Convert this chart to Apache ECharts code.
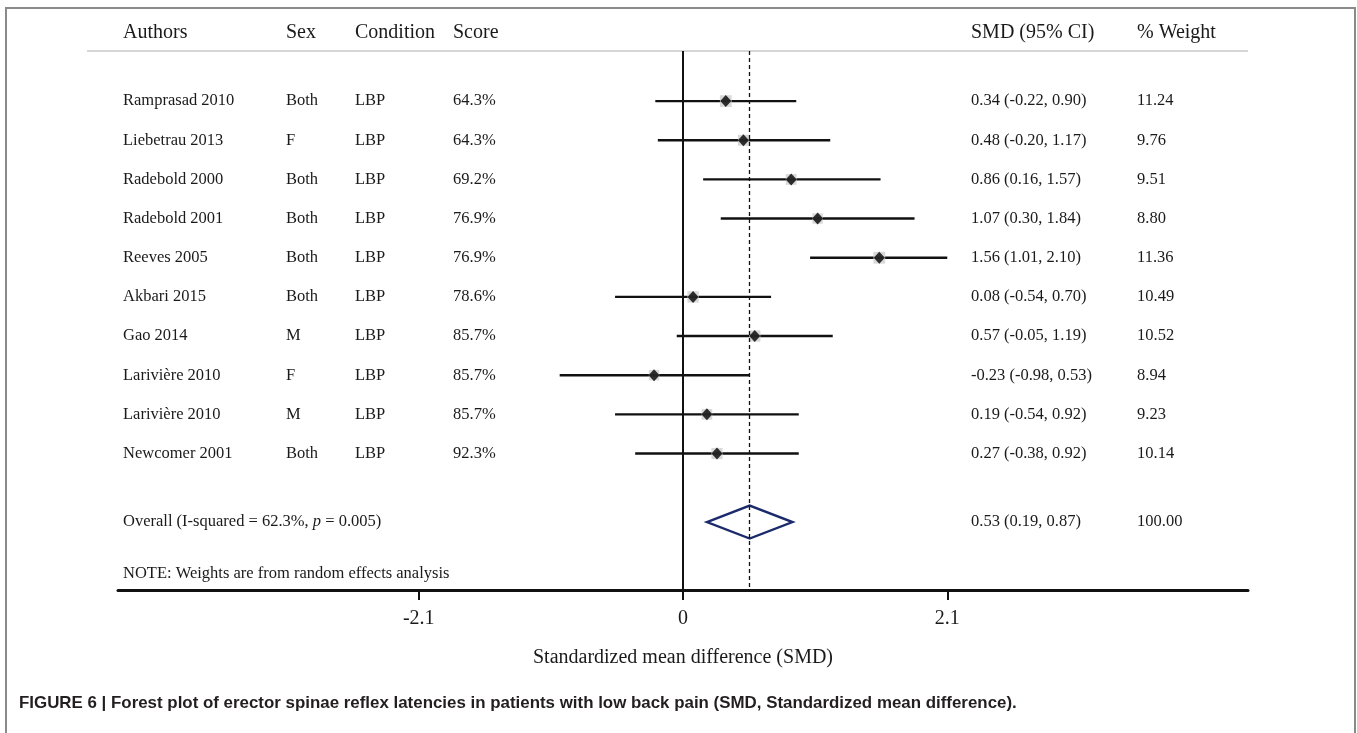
<!DOCTYPE html>
<html><head><meta charset="utf-8">
<script src="https://cdn.jsdelivr.net/npm/echarts@6/dist/echarts.min.js"></script>
<style>html,body{margin:0;padding:0;background:#fff}#c{width:1357px;height:733px}</style>
</head><body><div id="c"></div>
<script>
// ---- data ----
const authors = ['Ramprasad 2010','Liebetrau 2013','Radebold 2000','Radebold 2001','Reeves 2005','Akbari 2015','Gao 2014','Larivière 2010','Larivière 2010','Newcomer 2001'];
const sexes = ['Both','F','Both','Both','Both','Both','M','F','M','Both'];
const conditions = ['LBP','LBP','LBP','LBP','LBP','LBP','LBP','LBP','LBP','LBP'];
const scores = ['64.3%','64.3%','69.2%','76.9%','76.9%','78.6%','85.7%','85.7%','85.7%','92.3%'];
const smd = [0.34,0.48,0.86,1.07,1.56,0.08,0.57,-0.23,0.19,0.27];
const ciLow = [-0.22,-0.20,0.16,0.30,1.01,-0.54,-0.05,-0.98,-0.54,-0.38];
const ciHigh = [0.90,1.17,1.57,1.84,2.10,0.70,1.19,0.53,0.92,0.92];
const weights = ['11.24','9.76','9.51','8.80','11.36','10.49','10.52','8.94','9.23','10.14'];
const overall = [0.53, 0.19, 0.87];
const overallWeight = '100.00';
const overallI2 = '62.3%';
const overallP = '0.005';
const headers = ['Authors','Sex','Condition','Score','SMD (95% CI)','% Weight'];
const tickValues = [-2.1, 0, 2.1];
const tickLabels = ['-2.1','0','2.1'];
const xTitle = 'Standardized mean difference (SMD)';
const noteText = 'NOTE: Weights are from random effects analysis';
const captionText = 'FIGURE 6 | Forest plot of erector spinae reflex latencies in patients with low back pain (SMD, Standardized mean difference).';

// ---- layout ----
const SERIF = '"Liberation Serif","Times New Roman",serif';
const colX = [123, 286, 355, 453, 971, 1137];
const overallRow = 10.75, noteRow = 12.08;
const ink = '#1a1a1a';
const rowFont = '16.5px ' + SERIF;

const chart = echarts.init(document.getElementById('c'), null, {renderer:'canvas'});

const rows = authors.map((a, i) => [i]);
const ciData = smd.map((v, i) => [ciLow[i], ciHigh[i], i]);
const ptData = smd.map((v, i) => [v, i, parseFloat(weights[i])]);
const fmt = v => v.toFixed(2);

function txt(x, y, s, font) {
  return {type:'text', x, y, style:{text:s, font: font || rowFont, fill:ink, textVerticalAlign:'middle', textAlign:'left'}};
}

const option = {
  backgroundColor:'#fff',
  animation:false,
  grid:{left:118, right:109, top:51, bottom:143, containLabel:false},
  xAxis:{
    type:'value', min:-4.49, max:4.49,
    splitLine:{show:false},
    axisLine:{show:true, onZero:false, lineStyle:{color:'#111', width:3}},
    axisTick:{show:true, customValues:tickValues, length:10, lineStyle:{color:'#111', width:2}},
    axisLabel:{show:true, customValues:tickValues, margin:19,
      formatter:v => tickLabels[tickValues.indexOf(Math.round(v*10)/10)] ?? '',
      fontFamily:SERIF, fontSize:20, color:ink},
    name:xTitle, nameLocation:'middle', nameGap:58,
    nameTextStyle:{fontFamily:SERIF, fontSize:20, color:ink}
  },
  yAxis:{type:'value', inverse:true, min:-1.279, max:12.485, show:false},
  series:[
    { // row texts
      type:'custom', data:rows, silent:true, clip:false,
      renderItem(params, api){
        const i = api.value(0);
        const y = api.coord([0, i])[1];
        return {type:'group', children:[
          txt(colX[0], y, authors[i]),
          txt(colX[1], y, sexes[i]),
          txt(colX[2], y, conditions[i]),
          txt(colX[3], y, scores[i]),
          txt(colX[4], y, fmt(smd[i]) + ' (' + fmt(ciLow[i]) + ', ' + fmt(ciHigh[i]) + ')'),
          txt(colX[5], y, weights[i])
        ]};
      }
    },
    { // confidence intervals
      type:'custom', data:ciData, silent:true,
      renderItem(params, api){
        const a = api.coord([api.value(0), api.value(2)]);
        const b = api.coord([api.value(1), api.value(2)]);
        return {type:'line', shape:{x1:a[0], y1:a[1], x2:b[0], y2:b[1]}, style:{stroke:'#111', lineWidth:2.4}};
      },
      markLine:{
        silent:true, symbol:'none', label:{show:false},
        data:[
          {xAxis:0, lineStyle:{color:'#111', width:2, type:'solid'}},
          {xAxis:overall[0], lineStyle:{color:'#111', width:1.3, type:[4,3]}}
        ]
      }
    },
    { // weight boxes
      type:'scatter', data:ptData, symbol:'rect', silent:true,
      symbolSize: v => Math.sqrt(v[2]) * 3.5,
      itemStyle:{color:'#cfcfcf'}
    },
    { // point estimates
      type:'scatter', data:ptData, symbol:'diamond', silent:true,
      symbolSize:[11,12], itemStyle:{color:'#000'}
    },
    { // overall diamond + texts
      type:'custom', data:[overall], silent:true, clip:false,
      renderItem(params, api){
        const est = api.value(0), lo = api.value(1), hi = api.value(2);
        const h = 0.42;
        const pL = api.coord([lo, overallRow]);
        const pT = api.coord([est, overallRow - h]);
        const pR = api.coord([hi, overallRow]);
        const pB = api.coord([est, overallRow + h]);
        const y = pL[1];
        const yNote = api.coord([0, noteRow])[1];
        return {type:'group', children:[
          {type:'polygon', shape:{points:[pL, pT, pR, pB]}, style:{fill:null, stroke:'#1b2a6b', lineWidth:2.4}},
          {type:'text', x:colX[0], y:y, style:{
            text:'Overall (I-squared = ' + overallI2 + ', {i|p} = ' + overallP + ')',
            font:rowFont, fill:ink, textVerticalAlign:'middle',
            rich:{i:{fontFamily:SERIF, fontStyle:'italic', fontSize:16.5, fill:ink}}
          }},
          txt(colX[4], y, fmt(est) + ' (' + fmt(lo) + ', ' + fmt(hi) + ')'),
          txt(colX[5], y, overallWeight),
          txt(colX[0], yNote, noteText, '16.5px ' + SERIF)
        ]};
      }
    }
  ],
  graphic:[
    {type:'rect', shape:{x:6, y:8, width:1349, height:740}, style:{fill:null, stroke:'#8a8a8a', lineWidth:2}, silent:true, z:0},
    {type:'line', shape:{x1:87, y1:51, x2:1248, y2:51}, style:{stroke:'#c8c8c8', lineWidth:1.5}, silent:true},
    ...headers.map((h, k) => ({type:'text', x:colX[k], y:33, style:{text:h, font:'20px ' + SERIF, fill:ink, textVerticalAlign:'middle'}, silent:true})),
    {type:'text', x:19, y:703, style:{text:captionText, font:'bold 16.9px "Liberation Sans",Arial,sans-serif', fill:'#231f20', textVerticalAlign:'middle'}, silent:true}
  ]
};
chart.setOption(option);
</script>
</body></html>
